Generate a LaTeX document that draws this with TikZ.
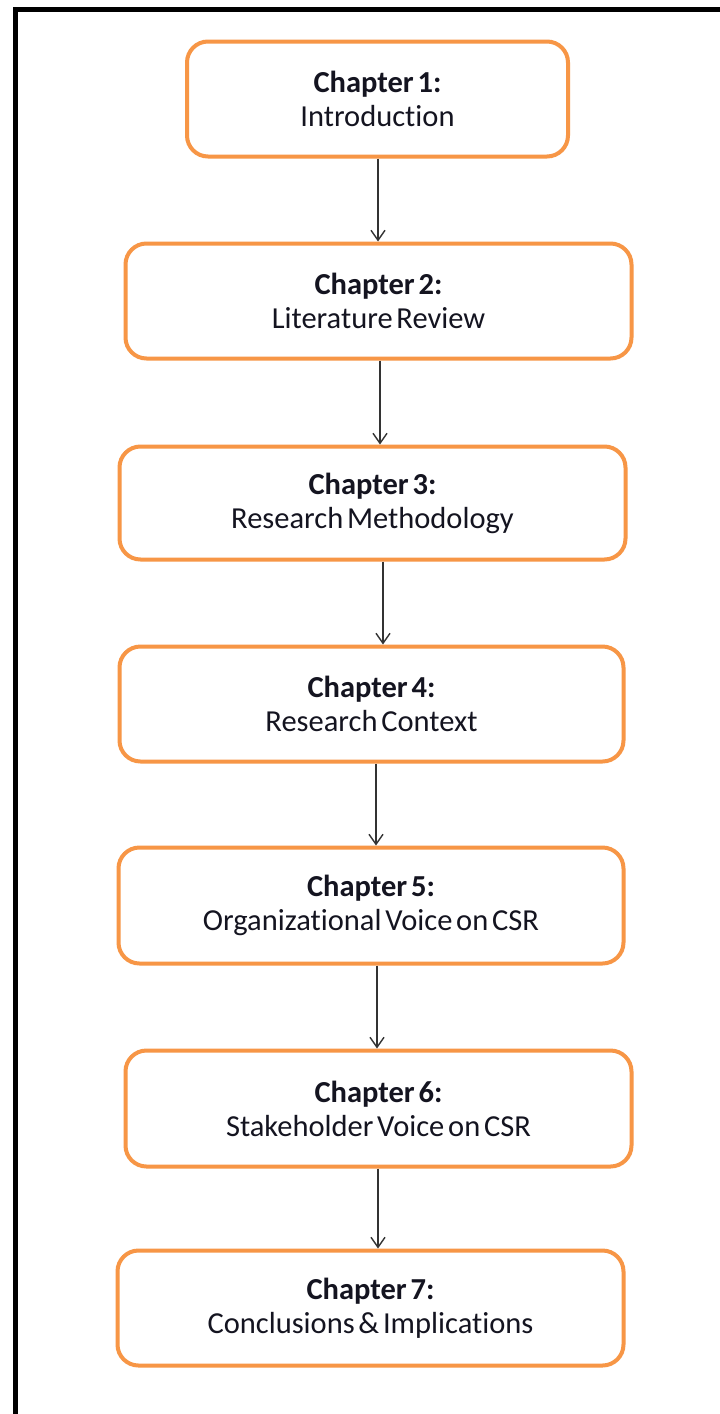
\documentclass[tikz,border=0pt]{standalone}
\usepackage{fontspec}
\setmainfont{Carlito}[WordSpace=0.55, RawFeature=-liga]
\usetikzlibrary{arrows.meta}
\definecolor{boxorange}{HTML}{F79646}
\definecolor{inkdark}{HTML}{141420}
\definecolor{arrowgray}{HTML}{333333}
\tikzset{
  x=1pt, y=-1pt,
  chapbox/.style={draw=boxorange, line width=4pt, rounded corners=21pt,
    fill=white, inner sep=0pt, align=center, text=inkdark,
    font=\fontsize{30.5}{34}\selectfont},
  flowarrow/.style={draw=arrowgray, line width=1.4pt,
    -{Straight Barb[length=10pt, width=14pt, line width=1.4pt]}},
}
\newcommand{\chap}[2]{\textbf{#1}\\#2}
\begin{document}
\begin{tikzpicture}
  \useasboundingbox (0,0) rectangle (720,1414);
  \fill[white] (0,0) rectangle (720,1414);
  % outer frame, running past the right and bottom edges
  \begin{scope}
    \clip (0,0) rectangle (720,1414);
    \draw[line width=5pt, black] (15,9) rectangle (900,1600);
  \end{scope}

  \node[chapbox, minimum width=381, minimum height=115] (b1) at (377.5,99)
    {\chap{Chapter 1:}{Introduction}};
  \node[chapbox, minimum width=506, minimum height=115] (b2) at (378.5,301)
    {\chap{Chapter 2:}{Literature Review}};
  \node[chapbox, minimum width=506, minimum height=113] (b3) at (372.5,503)
    {\chap{Chapter 3:}{Research Methodology}};
  \node[chapbox, minimum width=504, minimum height=115] (b4) at (371.5,704)
    {\chap{Chapter 4:}{Research Context}};
  \node[chapbox, minimum width=505, minimum height=116] (b5) at (371,905.5)
    {\chap{Chapter 5:}{Organizational Voice on CSR}};
  \node[chapbox, minimum width=506, minimum height=116] (b6) at (378.5,1108.5)
    {\chap{Chapter 6:}{Stakeholder Voice on CSR}};
  \node[chapbox, minimum width=506, minimum height=115] (b7) at (370.5,1308)
    {\chap{Chapter 7:}{Conclusions \& Implications}};

  % connectors between consecutive chapters
  \draw[flowarrow] ([xshift=0.5]b1.south) -- ([xshift=-0.5]b2.north);
  \draw[flowarrow] ([xshift=1.5]b2.south) -- ([xshift=7.5]b3.north);
  \draw[flowarrow] ([xshift=10.5]b3.south) -- ([xshift=11.5]b4.north);
  \draw[flowarrow] ([xshift=4.5]b4.south) -- ([xshift=5]b5.north);
  \draw[flowarrow] ([xshift=6]b5.south) -- ([xshift=-1.5]b6.north);
  \draw[flowarrow] ([xshift=-0.5]b6.south) -- ([xshift=7.5]b7.north);
\end{tikzpicture}
\end{document}
